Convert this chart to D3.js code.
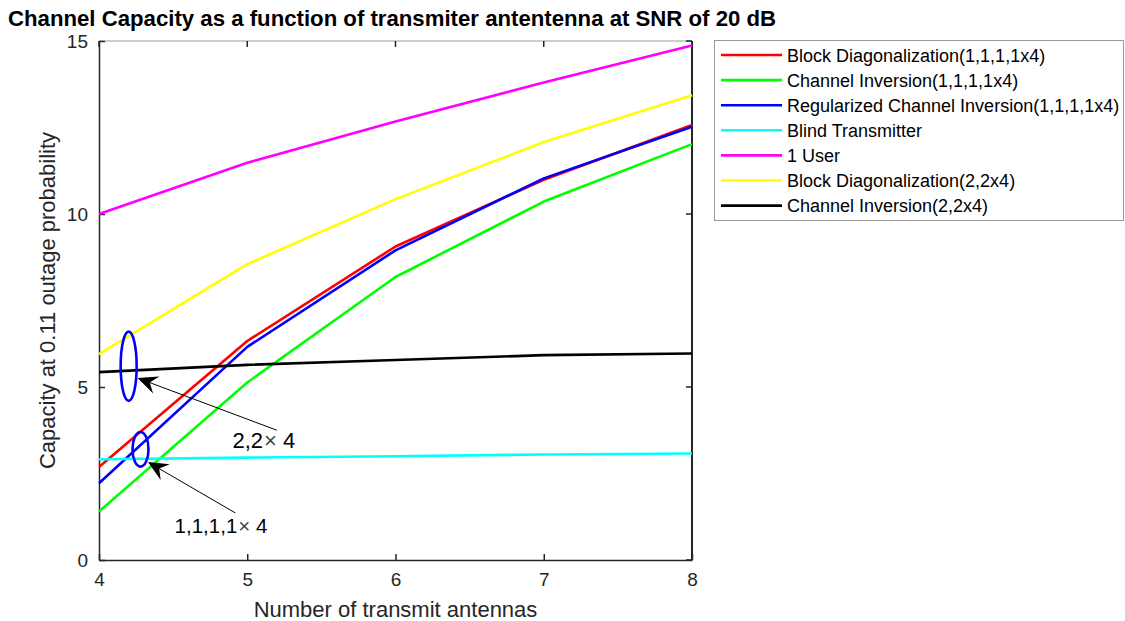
<!DOCTYPE html>
<html>
<head>
<meta charset="utf-8">
<script src="https://cdn.jsdelivr.net/npm/d3@7"></script>
<style>
  body { margin: 0; background: #fff; }
  svg { display: block; font-family: "Liberation Sans", Arial, sans-serif; }
</style>
</head>
<body>
<svg id="chart" width="1125" height="621"></svg>
<script>
// --- data ---
const antennas = [4, 5, 6, 7, 8];
const xTicks = [4, 5, 6, 7, 8];
const yTicks = [0, 5, 10, 15];

const seriesNames = [
  "Block Diagonalization(1,1,1,1x4)",
  "Channel Inversion(1,1,1,1x4)",
  "Regularized Channel Inversion(1,1,1,1x4)",
  "Blind Transmitter",
  "1 User",
  "Block Diagonalization(2,2x4)",
  "Channel Inversion(2,2x4)"
];
const seriesColors = ["#ff0000", "#00ff00", "#0000ff", "#00ffff", "#ff00ff", "#ffff00", "#000000"];

const bd1111 = [2.69, 6.33, 9.06, 10.99, 12.57];
const ci1111 = [1.40, 5.13, 8.18, 10.36, 12.02];
const rci1111 = [2.22, 6.16, 8.95, 11.03, 12.52];
const blind = [2.91, 2.96, 3.00, 3.05, 3.08];
const oneUser = [10.0, 11.48, 12.67, 13.80, 14.87];
const bd22 = [5.95, 8.55, 10.43, 12.08, 13.43];
const ci22 = [5.43, 5.64, 5.78, 5.92, 5.97];
const seriesValues = [bd1111, ci1111, rci1111, blind, oneUser, bd22, ci22];

// annotation marks, in data units
const ellipses = [
  { cx: 4.2, cy: 5.6, rx: 0.054, ry: 1.0 },
  { cx: 4.28, cy: 3.2, rx: 0.054, ry: 0.5 }
];
const arrows = [
  { x0: 5.2, y0: 3.75, x1: 4.26, y1: 5.26 },
  { x0: 4.92, y0: 1.36, x1: 4.33, y1: 2.83 }
];
const notes = [
  { x: 4.9, y: 3.24, a: "2,2", b: "4", size: 22 },
  { x: 4.51, y: 0.78, a: "1,1,1,1", b: "4", size: 20.5 }
];

// --- layout ---
const plot = { left: 99, right: 692, top: 41, bottom: 560 };
const ink = "#262626";

const svg = d3.select("#chart");
const x = d3.scaleLinear().domain([4, 8]).range([plot.left, plot.right]);
const y = d3.scaleLinear().domain([0, 15]).range([plot.bottom, plot.top]);

// title
svg.append("text")
  .attr("x", 8).attr("y", 26)
  .attr("font-size", 22.2).attr("font-weight", "bold").attr("fill", "#000")
  .text("Channel Capacity as a function of transmiter antentenna at SNR of 20 dB");

// frame: top grey, others dark
svg.append("line")
  .attr("x1", plot.left).attr("x2", plot.right)
  .attr("y1", plot.top).attr("y2", plot.top)
  .attr("stroke", "#9a9a9a").attr("stroke-width", 1);

// axes
const xAxis = d3.axisBottom(x).tickValues(xTicks).tickFormat(d3.format("d"))
  .tickSizeInner(-6).tickSizeOuter(0).tickPadding(13);
const yAxis = d3.axisLeft(y).tickValues(yTicks).tickFormat(d3.format("d"))
  .tickSizeInner(-6).tickSizeOuter(0).tickPadding(11);

const gx = svg.append("g").attr("transform", `translate(0,${plot.bottom})`).call(xAxis);
const gy = svg.append("g").attr("transform", `translate(${plot.left},0)`).call(yAxis);
[gx, gy].forEach(g => {
  g.select(".domain").attr("stroke", ink).attr("stroke-width", 1.5);
  g.selectAll(".tick line").attr("stroke", ink).attr("stroke-width", 1.5);
  g.selectAll(".tick text").attr("fill", ink).attr("font-size", 19)
    .attr("font-family", "Liberation Sans, Arial, sans-serif");
});
// top ticks
svg.append("g").selectAll("line").data(xTicks).join("line")
  .attr("x1", d => x(d)).attr("x2", d => x(d))
  .attr("y1", plot.top).attr("y2", plot.top + 6)
  .attr("stroke", ink).attr("stroke-width", 1.5);
// right axis with ticks
svg.append("line")
  .attr("x1", plot.right).attr("x2", plot.right)
  .attr("y1", plot.top).attr("y2", plot.bottom)
  .attr("stroke", ink).attr("stroke-width", 2);
svg.append("g").selectAll("line").data(yTicks).join("line")
  .attr("x1", plot.right - 6).attr("x2", plot.right)
  .attr("y1", d => y(d)).attr("y2", d => y(d))
  .attr("stroke", ink).attr("stroke-width", 1.5);

// axis labels
svg.append("text")
  .attr("x", (plot.left + plot.right) / 2).attr("y", 617)
  .attr("text-anchor", "middle").attr("font-size", 22).attr("fill", ink)
  .text("Number of transmit antennas");
svg.append("text")
  .attr("transform", `translate(55,${(plot.top + plot.bottom) / 2}) rotate(-90)`)
  .attr("text-anchor", "middle").attr("font-size", 22).attr("fill", ink)
  .text("Capacity at 0.11 outage probability");

// lines
const line = d3.line().x((d, i) => x(antennas[i])).y(d => y(d));
svg.append("g").selectAll("path").data(seriesValues).join("path")
  .attr("d", d => line(d))
  .attr("fill", "none")
  .attr("stroke", (d, i) => seriesColors[i])
  .attr("stroke-width", 2.6)
  .attr("stroke-linejoin", "round");

// annotations
const ann = svg.append("g");
ann.selectAll("ellipse").data(ellipses).join("ellipse")
  .attr("cx", d => x(d.cx)).attr("cy", d => y(d.cy))
  .attr("rx", d => x(d.cx + d.rx) - x(d.cx))
  .attr("ry", d => y(d.cy - d.ry) - y(d.cy))
  .attr("fill", "none").attr("stroke", "#0000ff").attr("stroke-width", 2.6);

arrows.forEach(a => {
  const x0 = x(a.x0), y0 = y(a.y0), x1 = x(a.x1), y1 = y(a.y1);
  const ang = Math.atan2(y1 - y0, x1 - x0);
  const len = 20, half = 9, back = 13;
  const ux = Math.cos(ang), uy = Math.sin(ang);
  const px = -uy, py = ux;
  ann.append("line")
    .attr("x1", x0).attr("y1", y0)
    .attr("x2", x1 - ux * back).attr("y2", y1 - uy * back)
    .attr("stroke", "#000").attr("stroke-width", 1);
  const pts = [
    [x1, y1],
    [x1 - ux * len + px * half, y1 - uy * len + py * half],
    [x1 - ux * back, y1 - uy * back],
    [x1 - ux * len - px * half, y1 - uy * len - py * half]
  ];
  ann.append("path").attr("d", "M" + pts.join("L") + "Z").attr("fill", "#000");
});

notes.forEach(n => {
  const t = ann.append("text")
    .attr("x", x(n.x)).attr("y", y(n.y))
    .attr("font-size", n.size).attr("fill", "#000");
  t.append("tspan").text(n.a);
  t.append("tspan").text("\u00d7").attr("font-weight", 300).attr("fill", "#444").attr("dx", 1);
  t.append("tspan").text(" " + n.b);
});

// legend
const lg = svg.append("g");
lg.append("rect")
  .attr("x", 714.5).attr("y", 40.5).attr("width", 409).attr("height", 180)
  .attr("fill", "#fff").attr("stroke", "#9a9a9a").attr("stroke-width", 1);
seriesNames.forEach((name, i) => {
  const ly = 55 + i * 25.1;
  lg.append("line")
    .attr("x1", 721).attr("x2", 782).attr("y1", ly).attr("y2", ly)
    .attr("stroke", seriesColors[i]).attr("stroke-width", 2.6);
  lg.append("text")
    .attr("x", 787).attr("y", ly + 6.5)
    .attr("font-size", 18).attr("fill", "#000")
    .text(name);
});
</script>
</body>
</html>
